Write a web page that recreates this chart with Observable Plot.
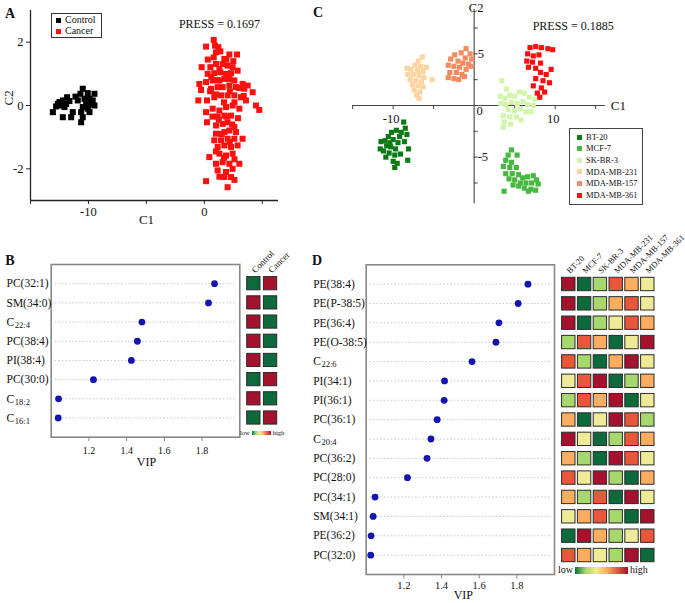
<!DOCTYPE html>
<html><head><meta charset="utf-8">
<script src="https://cdn.jsdelivr.net/npm/d3@7"></script>
<script src="https://cdn.jsdelivr.net/npm/@observablehq/plot@0.6"></script>
<style>
body{margin:0;background:#fff;}
#root{position:relative;width:685px;height:603px;overflow:hidden;font-family:"Liberation Serif","Times New Roman",serif;color:#111;background:#fff;}
</style></head><body><div id="root"></div>
<script>
// ---------- Panel A data ----------
const aGroups = ["Control", "Cancer"];
const aColors = ["#000000", "#ff1010"];
const aPress = "PRESS = 0.1697";
const aXTicks = [-15, -10, -5, 0, 5];
const aXLabelled = [-10, 0];
const aYTicks = [-2, 0, 2];
const controlPts = [[-10.49,0.53],[-11.12,0.28],[-10.69,0.37],[-10.06,0.39],[-9.48,0.37],[-11.84,0.26],[-12.21,0.16],[-12.64,0.05],[-12.79,-0.03],[-12.36,0.00],[-11.92,0.05],[-11.64,0.14],[-10.34,0.21],[-9.91,0.21],[-9.63,0.16],[-10.20,0.07],[-9.77,0.03],[-10.49,-0.05],[-10.06,-0.05],[-9.48,0.00],[-12.07,-0.05],[-13.07,-0.21],[-10.63,-0.21],[-9.91,-0.21],[-11.35,-0.21],[-12.21,-0.37],[-11.49,-0.37],[-10.49,-0.37],[-10.63,-0.53],[-10.06,-0.10],[-12.50,0.11],[-10.92,0.16]];
const cancerPts = [[0.81,2.07],[0.15,1.86],[0.92,1.89],[1.21,1.84],[1.01,1.68],[1.38,1.71],[2.16,1.61],[2.82,1.61],[0.81,1.52],[1.73,1.47],[-0.23,1.21],[0.52,1.21],[1.01,1.31],[1.58,1.31],[2.01,1.26],[2.44,1.21],[2.87,1.10],[0.29,1.00],[0.86,1.02],[1.38,1.05],[1.87,1.00],[2.30,1.02],[-0.43,0.68],[0.15,0.74],[0.72,0.79],[1.30,0.79],[1.73,0.84],[2.16,0.84],[2.59,0.79],[3.30,0.68],[3.74,0.63],[-0.28,0.49],[0.58,0.53],[1.15,0.58],[1.58,0.58],[2.16,0.63],[2.73,0.58],[3.45,0.53],[4.17,0.42],[-0.52,0.16],[0.23,0.16],[0.86,0.26],[1.44,0.32],[2.01,0.32],[2.59,0.32],[3.16,0.26],[3.59,0.16],[4.46,0.00],[4.74,-0.14],[0.15,-0.21],[0.72,-0.10],[1.30,-0.16],[1.87,-0.05],[2.44,0.00],[3.02,-0.10],[1.15,-0.35],[1.73,-0.32],[2.30,-0.32],[0.23,-0.53],[1.01,-0.63],[1.58,-0.58],[2.01,-0.53],[2.59,-0.68],[1.01,-0.89],[1.73,-0.84],[2.16,-0.79],[2.73,-0.84],[3.30,-1.05],[0.86,-1.10],[1.44,-1.10],[2.01,-1.05],[2.59,-1.05],[1.15,-1.31],[1.73,-1.26],[2.30,-1.31],[2.87,-1.26],[0.43,-1.63],[1.30,-1.52],[1.87,-1.58],[2.44,-1.52],[1.01,-1.84],[1.58,-1.79],[2.16,-1.84],[3.02,-1.84],[1.15,-2.05],[1.87,-2.10],[2.44,-2.00],[0.15,-2.39],[1.73,-2.26],[2.30,-2.26],[2.01,-2.58],[1.3,1.15],[1.9,1.45],[0.6,0.9],[2.2,0.45],[1.0,0.35],[1.7,0.1],[0.5,0.45],[2.6,0.1],[3.0,0.55],[1.25,-0.45],[1.9,-0.35],[0.7,-0.35],[2.4,-0.6],[1.5,-0.9],[2.2,-1.15],[1.0,-1.45],[1.7,-1.65],[2.6,-1.7],[1.3,-2.25],[2.6,-2.35],[2.9,-0.4],[3.4,0.3],[0.3,1.45],[2.5,1.4],[1.1,0.8]];

// ---------- Panel C data ----------
const cellLines = ["BT-20", "MCF-7", "SK-BR-3", "MDA-MB-231", "MDA-MB-157", "MDA-MB-361"];
const cellColors = ["#0b7a14", "#45b83d", "#d3f5a9", "#fdd4a0", "#f48b5f", "#ff0d0d"];
const cPress = "PRESS = 0.1885";
const cXExtent = [-15, 16.2];
const cYExtent = [-9.5, 9.3];
const cXTicks = [-15, -10, -5, 5, 10, 15];
const cYTicks = [-7.5, -5, -2.5, 2.5, 5, 7.5];
const cXLabelled = [-10, 10];
const cYLabelled = [-5, 5];
const bt20Pts = [[-8.7,-1.6],[-8.5,-2.2],[-8.3,-2.8],[-9.6,-2.4],[-10.2,-2.6],[-9.2,-3.0],[-10.6,-3.0],[-11.0,-3.4],[-10.0,-3.3],[-9.4,-3.6],[-8.6,-3.5],[-8.1,-4.2],[-10.8,-3.9],[-11.5,-3.5],[-10.3,-4.0],[-9.7,-4.2],[-11.2,-4.4],[-10.5,-4.6],[-9.8,-4.8],[-11.6,-4.2],[-10.9,-5.0],[-10.0,-5.4],[-8.2,-5.3],[-9.5,-5.6],[-9.8,-6.0],[-9.1,-4.7],[-10.4,-3.6],[-9.0,-2.6]];
const mcf7Pts = [[4.6,-4.3],[4.2,-4.8],[5.3,-4.8],[3.9,-5.3],[4.6,-5.5],[3.6,-5.9],[4.4,-6.0],[5.2,-6.0],[3.9,-6.6],[4.7,-6.6],[5.5,-6.7],[4.3,-7.1],[5.0,-7.2],[6.0,-7.0],[6.6,-6.9],[7.3,-6.8],[7.7,-7.2],[5.7,-7.5],[6.4,-7.5],[7.1,-7.5],[7.9,-7.6],[4.8,-7.7],[5.5,-7.8],[6.2,-8.0],[7.0,-8.1],[7.6,-8.2],[3.7,-8.3],[6.7,-8.3]];
const skbr3Pts = [[3.4,2.4],[4.0,1.6],[3.2,0.9],[3.8,0.7],[4.4,1.0],[5.0,0.9],[5.6,1.3],[6.2,1.2],[6.8,0.8],[7.5,0.6],[3.3,0.2],[3.9,0.1],[4.6,0.3],[5.3,0.2],[6.0,0.4],[6.6,0.1],[7.3,0.0],[4.2,-0.4],[5.0,-0.5],[5.7,-0.3],[6.4,-0.6],[7.0,-0.6],[3.6,-1.0],[4.4,-1.1],[5.2,-1.1],[3.7,-1.6],[4.5,-1.8],[3.6,-2.1],[5.8,-1.4]];
const mb231Pts = [[-6.4,4.7],[-6.9,4.3],[-7.3,3.9],[-6.6,3.8],[-7.8,3.5],[-7.0,3.4],[-6.3,3.3],[-8.2,3.0],[-7.5,3.0],[-6.8,2.9],[-6.2,2.7],[-7.9,2.5],[-7.2,2.4],[-6.5,2.3],[-5.2,2.5],[-7.6,2.0],[-6.9,1.9],[-6.3,1.8],[-7.4,1.5],[-6.7,1.3],[-7.1,1.0],[-6.8,0.7],[-8.3,3.6],[-5.9,3.7]];
const mb157Pts = [[-1.0,5.5],[-1.6,5.1],[-0.5,5.0],[-2.4,4.9],[-1.1,4.6],[-0.3,4.5],[-2.9,4.5],[-2.0,4.3],[-1.4,4.1],[-0.7,4.0],[-3.2,3.9],[-2.5,3.8],[-1.8,3.7],[-1.0,3.5],[-3.0,3.2],[-2.2,3.2],[-1.5,3.0],[-0.4,3.8],[-3.2,2.7],[-2.5,2.6],[-1.9,2.5],[-1.2,2.8]];
const mb361Pts = [[6.9,5.6],[7.6,5.7],[8.3,5.6],[9.1,5.5],[9.7,5.4],[6.6,5.0],[7.3,4.8],[8.0,4.9],[6.5,4.3],[7.2,4.2],[8.2,4.1],[6.7,3.7],[7.6,3.6],[9.5,3.5],[8.2,3.2],[8.9,3.0],[7.6,2.6],[8.5,2.4],[9.3,2.2],[7.3,1.9],[8.3,1.7],[7.8,1.2],[8.7,1.3],[8.1,0.8]];

// ---------- Panel B data ----------
const bLipids = ["PC(32:1)", "SM(34:0)", "C22:4", "PC(38:4)", "PI(38:4)", "PC(30:0)", "C18:2", "C16:1"];
const bVip = [1.866, 1.834, 1.481, 1.457, 1.425, 1.224, 1.039, 1.037];
const bGroups = ["Control", "Cancer"];
const bControlLevel = [1, 6, 6, 6, 6, 1, 6, 1];
const bCancerLevel = [6, 1, 1, 1, 1, 6, 1, 6];
const vipTicks = [1.2, 1.4, 1.6, 1.8];

// ---------- Panel D data ----------
const dLipids = ["PE(38:4)", "PE(P-38:5)", "PE(36:4)", "PE(O-38:5)", "C22:6", "PI(34:1)", "PI(36:1)", "PC(36:1)", "C20:4", "PC(36:2)", "PC(28:0)", "PC(34:1)", "SM(34:1)", "PE(36:2)", "PC(32:0)"];
const dVip = [1.859, 1.807, 1.705, 1.689, 1.562, 1.416, 1.414, 1.377, 1.344, 1.323, 1.219, 1.047, 1.037, 1.026, 1.024];
const dLevels = [
  [6,1,2,5,4,3],[6,1,2,4,5,3],[6,1,2,3,5,4],[2,5,4,1,3,6],[5,2,1,4,6,3],
  [3,5,6,1,2,4],[2,5,4,6,1,3],[4,1,3,6,5,2],[6,3,1,2,5,4],[4,2,1,6,5,3],
  [5,3,6,2,1,4],[4,2,5,1,6,3],[3,4,5,2,1,6],[1,6,4,2,3,5],[5,4,3,2,6,1]
];
const heatLevels = [1, 2, 3, 4, 5, 6];
const heatColors = ["#0d6b3b", "#a7d86d", "#eeea98", "#fcad5f", "#e8573a", "#a5122e"];

// ---------- helpers ----------
const root = document.getElementById("root");
const serif = "Liberation Serif";
function place(node, left, top) {
  node.style.position = "absolute";
  node.style.left = left + "px";
  node.style.top = top + "px";
  root.appendChild(node);
}
function html(tag, css, text) {
  const el = document.createElement(tag);
  el.style.cssText = css;
  if (text != null) el.textContent = text;
  return el;
}
const hy = d => (d < 0 ? "-" + (-d) : String(d));
function splitLabel(name) {
  const m = /^C(\d+:\d+)$/.exec(name);
  return m ? {lipid: name, main: "C", sub: m[1]} : {lipid: name, main: name, sub: null};
}
const baseStyle = {fontFamily: serif, background: "none", overflow: "visible", color: "#111"};

// ---------- Panel A ----------
const aData = [
  ...controlPts.map(([x, y]) => ({x, y, g: aGroups[0]})),
  ...cancerPts.map(([x, y]) => ({x, y, g: aGroups[1]}))
];
const plotA = Plot.plot({
  width: 300, height: 225,
  marginLeft: 30, marginRight: 22, marginTop: 10, marginBottom: 25,
  style: baseStyle,
  x: {domain: [-15, 6.4], label: null},
  y: {domain: [-3, 3], label: null},
  color: {domain: aGroups, range: aColors},
  marks: [
    Plot.dot(aData, {x: "x", y: "y", fill: "g", symbol: "square", r: 3.4}),
    Plot.ruleX([-15], {stroke: "#222", strokeWidth: 1.3}),
    Plot.ruleY([-3], {stroke: "#222", strokeWidth: 1.3}),
    Plot.axisX(aXTicks, {tickSize: 4, tickPadding: 3, stroke: "#222", fontSize: 12.5, label: null,
      tickFormat: d => (aXLabelled.includes(d) ? hy(d) : "")}),
    Plot.axisY(aYTicks, {tickSize: 4, tickPadding: 3, stroke: "#222", fontSize: 12.5, label: null, tickFormat: hy}),
    Plot.text(["C1"], {text: d => d, frameAnchor: "bottom", dx: -8, dy: 23, fontSize: 13}),
    Plot.text(["C2"], {text: d => d, frameAnchor: "left", dx: -22, rotate: -90, fontSize: 13}),
    Plot.text([aPress], {text: d => d, frameAnchor: "top", dx: 65, dy: 9, fontSize: 12})
  ]
});
place(plotA, 0, 0);
root.appendChild(html("div", "position:absolute;left:5px;top:6px;font-size:14px;font-weight:bold;", "A"));
{
  const box = html("div", "position:absolute;left:51px;top:13px;width:49px;height:23px;border:1px solid #333;background:#fff;font-size:10px;");
  aGroups.forEach((g, i) => {
    const row = html("div", `position:absolute;left:4px;top:${1 + i * 11}px;height:10px;display:flex;align-items:center;`);
    row.appendChild(html("span", `display:inline-block;width:5px;height:5px;background:${aColors[i]};margin-right:4px;`));
    row.appendChild(html("span", "line-height:1;", g));
    box.appendChild(row);
  });
  root.appendChild(box);
}

// ---------- Panel C ----------
const cSets = [bt20Pts, mcf7Pts, skbr3Pts, mb231Pts, mb157Pts, mb361Pts];
const cData = cSets.flatMap((pts, i) => pts.map(([x, y]) => ({x, y, g: cellLines[i]})));
const plotC = Plot.plot({
  width: 385, height: 215,
  marginLeft: 40, marginRight: 69.6, marginTop: 1.7, marginBottom: 6.7,
  style: baseStyle,
  x: {domain: [-16.5, 17.5], axis: null},
  y: {domain: [-10, 10], axis: null},
  color: {domain: cellLines, range: cellColors},
  marks: [
    Plot.ruleY([0], {x1: () => cXExtent[0], x2: () => cXExtent[1], stroke: "#444", strokeWidth: 1.1}),
    Plot.ruleX([0], {y1: () => cYExtent[0], y2: () => cYExtent[1], stroke: "#444", strokeWidth: 1.1}),
    Plot.ruleX(cXTicks, {x: d => d, y1: 0, y2: -0.4, stroke: "#444"}),
    Plot.ruleY(cYTicks, {y: d => d, x1: 0, x2: 0.5, stroke: "#444"}),
    Plot.dot(cData, {x: "x", y: "y", fill: "g", symbol: "square", r: 2.9}),
    Plot.text(cXLabelled, {x: d => d, y: 0, text: hy, dy: 13, dx: -2, fontSize: 12.5}),
    Plot.text(cYLabelled, {x: 0, y: d => d, text: hy, dx: 3.5, textAnchor: "start", fontSize: 12.5}),
    Plot.text([0], {x: d => d, y: d => d, text: hy, dx: 5.5, dy: 5.5, fontSize: 12.5}),
    Plot.text(["C1"], {x: () => cXExtent[1], y: 0, text: d => d, dx: 13, textAnchor: "middle", fontSize: 13}),
    Plot.text(["C2"], {x: 0, y: () => cYExtent[1], text: d => d, dx: 2, dy: -1.5, fontSize: 12.5}),
    Plot.text([cPress], {text: d => d, frameAnchor: "top", dx: 95, dy: 19, fontSize: 12})
  ]
});
place(plotC, 300, 0);
root.appendChild(html("div", "position:absolute;left:313px;top:5px;font-size:14px;font-weight:bold;", "C"));
{
  const box = html("div", "position:absolute;left:569px;top:128px;width:72px;height:75px;border:1px solid #444;background:#fff;font-size:8.5px;");
  cellLines.forEach((g, i) => {
    const row = html("div", `position:absolute;left:7px;top:${3 + i * 11.6}px;height:10px;display:flex;align-items:center;`);
    row.appendChild(html("span", `display:inline-block;width:5px;height:5px;background:${cellColors[i]};margin-right:4px;`));
    row.appendChild(html("span", "line-height:1;", g));
    box.appendChild(row);
  });
  root.appendChild(box);
}

// ---------- dot plot builder (B, D) ----------
function vipPlot({lipids, vip, width, height, mL, mR, mT, mB, labelDx, tickPad, vipDy, vipDx, tickFont}) {
  const rows = lipids.map((l, i) => ({...splitLabel(l), vip: vip[i]}));
  return Plot.plot({
    width, height, marginLeft: mL, marginRight: mR, marginTop: mT, marginBottom: mB,
    style: baseStyle,
    x: {domain: [1, 2], label: null},
    y: {type: "point", domain: lipids, padding: 1, round: false, axis: null},
    marks: [
      Plot.ruleY(lipids, {y: d => d, stroke: "#b8b8b8", strokeWidth: 0.8, strokeDasharray: "1.5,2", insetLeft: 4, insetRight: 4}),
      Plot.frame({stroke: "#888", strokeWidth: 1.6}),
      Plot.dot(rows, {x: "vip", y: "lipid", fill: "#1414b0", r: 3.4}),
      Plot.axisX(vipTicks, {tickSize: 4.5, tickPadding: tickPad, stroke: "#888", fontSize: tickFont, label: null, tickFormat: d => d.toFixed(1)}),
      Plot.text(rows, {y: "lipid", text: "main", frameAnchor: "left", dx: labelDx, textAnchor: "start", fontSize: 11.5}),
      Plot.text(rows.filter(d => d.sub), {y: "lipid", text: "sub", frameAnchor: "left", dx: labelDx + 8.3, dy: 3, textAnchor: "start", fontSize: 8.5}),
      Plot.text(["VIP"], {text: d => d, frameAnchor: "bottom", dx: vipDx, dy: vipDy, fontSize: 12})
    ]
  });
}
function heatPlot({lipids, cols, cells, width, height, mL, mR, mT, mB, insetX, insetY, headFont, headDx, headDy}) {
  return Plot.plot({
    width, height, marginLeft: mL, marginRight: mR, marginTop: mT, marginBottom: mB,
    style: baseStyle,
    x: {type: "band", domain: cols, padding: 0, round: false, axis: null},
    y: {type: "band", domain: lipids, padding: 0, round: false, axis: null},
    color: {type: "ordinal", domain: heatLevels, range: heatColors},
    marks: [
      Plot.cell(cells, {x: "col", y: "lipid", fill: "level", stroke: "#2b2b2b", strokeWidth: 1,
        insetLeft: insetX, insetRight: insetX, insetTop: insetY, insetBottom: insetY}),
      Plot.text(cols, {x: d => d, text: d => d, frameAnchor: "top", rotate: -45, textAnchor: "start",
        dx: headDx, dy: headDy, fontSize: headFont})
    ]
  });
}

// ---------- Panel B ----------
place(vipPlot({lipids: bLipids, vip: bVip, width: 245, height: 235, mL: 50.7, mR: 5.7, mT: 24, mB: 38.3,
  labelDx: -44.7, tickPad: 5.5, vipDy: 29, vipDx: 1, tickFont: 10}), 0, 240);
const bCells = bLipids.flatMap((l, i) => [
  {lipid: l, col: bGroups[0], level: bControlLevel[i]},
  {lipid: l, col: bGroups[1], level: bCancerLevel[i]}
]);
place(heatPlot({lipids: bLipids, cols: bGroups, cells: bCells, width: 60, height: 200,
  mL: 5, mR: 21.6, mT: 33.6, mB: 12.9, insetX: 1.7, insetY: 3, headFont: 9, headDx: -3, headDy: -5}), 240, 240);
root.appendChild(html("div", "position:absolute;left:10px;top:253px;font-size:14px;font-weight:bold;transform:translateX(-50%);", "B"));
function gradLegend(left, top, font, barW, barH) {
  const wrap = html("div", `position:absolute;left:${left}px;top:${top}px;display:flex;align-items:center;font-size:${font}px;line-height:1;`);
  wrap.appendChild(html("span", "margin-right:2px;", "low"));
  wrap.appendChild(html("span", `display:inline-block;width:${barW}px;height:${barH}px;background:linear-gradient(to right,${heatColors.join(",")});`));
  wrap.appendChild(html("span", "margin-left:2px;", "high"));
  root.appendChild(wrap);
}
gradLegend(240, 430, 6.5, 19, 4);

// ---------- Panel D ----------
place(vipPlot({lipids: dLipids, vip: dVip, width: 260, height: 360, mL: 65.7, mR: 6, mT: 24.3, mB: 26,
  labelDx: -53, tickPad: 2.5, vipDy: 24, vipDx: 3, tickFont: 10.5}), 300, 240);
const dCells = dLipids.flatMap((l, i) => cellLines.map((c, j) => ({lipid: l, col: c, level: dLevels[i][j]})));
place(heatPlot({lipids: dLipids, cols: cellLines, cells: dCells, width: 130, height: 370,
  mL: 5.4, mR: 29.8, mT: 59.3, mB: 20.3, insetX: 1.2, insetY: 3, headFont: 8.4, headDx: -3, headDy: -5}), 555, 215);
root.appendChild(html("div", "position:absolute;left:312px;top:253px;font-size:14px;font-weight:bold;", "D"));
gradLegend(558, 565, 10, 53, 7);
</script></body></html>
